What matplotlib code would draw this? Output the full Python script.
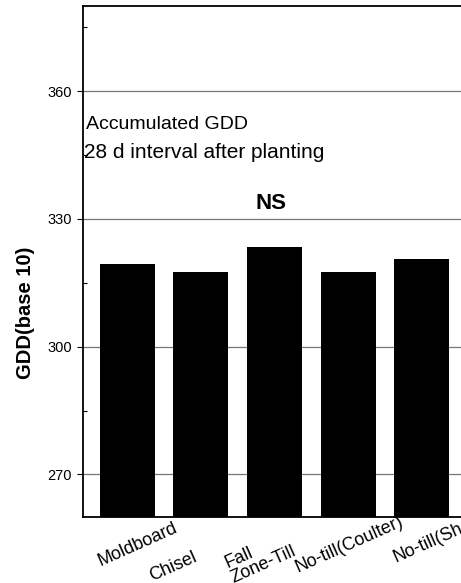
import matplotlib
matplotlib.use('Agg')
import matplotlib.pyplot as plt
from matplotlib.ticker import MultipleLocator
from matplotlib.transforms import ScaledTranslation

plt.rcParams['font.family'] = ['Liberation Sans', 'DejaVu Sans']

# Tillage systems and accumulated GDD values
systems = ['Moldboard', 'Chisel', 'Fall\nZone-Till', 'No-till(Coulter)', 'No-till(Shank)']
gdd = [319.5, 317.5, 323.4, 317.5, 320.6]

# nudges for the hand-placed labels of the original (points)
label_shift = [(7.5, -3), (-20, -19), (-10, -12.5), (1, -3.5), (16, 3)]

fig = plt.figure(figsize=(4.61, 5.83), dpi=100)
ax = fig.add_axes([0.180, 0.1132, 0.831, 0.8765])

x = range(len(systems))
ax.bar(x, gdd, width=0.75, color='black', zorder=3)

ax.set_xlim(-0.6, 4.6)
ax.set_ylim(260, 380)
ax.yaxis.set_minor_locator(MultipleLocator(15))
ax.set_yticks([270, 300, 330, 360])
ax.grid(axis='y', color='#777777', linewidth=0.9, zorder=1)

ax.tick_params(axis='y', which='major', direction='out', length=4, width=0.8, labelsize=10.5, pad=4)
ax.tick_params(axis='y', which='minor', direction='in', length=3, width=0.8)
ax.tick_params(axis='x', length=0, labelsize=13, pad=16.5)

ax.set_xticks(list(x))
ax.set_xticklabels(systems, rotation=24, ha='center', va='center',
                   rotation_mode='anchor', multialignment='left', linespacing=0.9)
for lbl, (dx, dy) in zip(ax.get_xticklabels(), label_shift):
    lbl.set_transform(lbl.get_transform() + ScaledTranslation(dx / 72, dy / 72, fig.dpi_scale_trans))

for side in ['left', 'bottom', 'top']:
    ax.spines[side].set_linewidth(1.3)
ax.spines['right'].set_visible(False)

ax.set_ylabel('GDD(base 10)', fontsize=14.5, fontweight='bold')
ax.yaxis.set_label_coords(-0.125, 0.40)

ax.text(-0.56, 351.0, 'Accumulated GDD', fontsize=14, va='baseline', ha='left')
ax.text(-0.58, 344.2, '28 d interval after planting', fontsize=15, va='baseline', ha='left')
ax.text(1.95, 332.4, 'NS', fontsize=16, fontweight='bold', va='baseline', ha='center')

fig.savefig('out.png', dpi=100)
